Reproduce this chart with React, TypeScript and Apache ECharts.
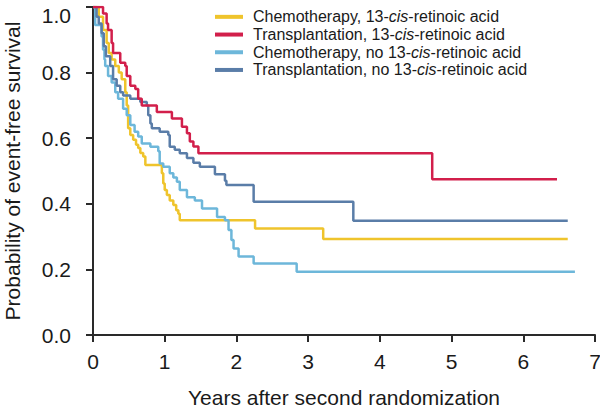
import React, { useEffect, useRef } from "react";
import * as echarts from "echarts";

const seriesNames = [
  "Chemotherapy, 13-cis-retinoic acid",
  "Transplantation, 13-cis-retinoic acid",
  "Chemotherapy, no 13-cis-retinoic acid",
  "Transplantation, no 13-cis-retinoic acid",
];

const seriesColors = ["#efc42c", "#d21f4b", "#6db7da", "#5a7da8"];

const xTicks = [0, 1, 2, 3, 4, 5, 6, 7];
const yTicks = [0, 0.2, 0.4, 0.6, 0.8, 1.0];

const chemoCis: [number, number][] = [
  [0, 1], [0.08, 0.97], [0.14, 0.93], [0.19, 0.89], [0.22, 0.86], [0.26, 0.84],
  [0.31, 0.82], [0.36, 0.8], [0.4, 0.78], [0.45, 0.74], [0.47, 0.7], [0.49, 0.63],
  [0.52, 0.61], [0.56, 0.595], [0.6, 0.58], [0.63, 0.57], [0.66, 0.555], [0.7, 0.544],
  [0.73, 0.518], [0.96, 0.493], [0.98, 0.462], [1.0, 0.442], [1.03, 0.427], [1.07, 0.41],
  [1.12, 0.396], [1.16, 0.38], [1.19, 0.37], [1.21, 0.35], [2.26, 0.325], [3.21, 0.293],
  [6.62, 0.293],
];

const transCis: [number, number][] = [
  [0, 1], [0.14, 0.98], [0.19, 0.95], [0.21, 0.93], [0.26, 0.89], [0.28, 0.86],
  [0.38, 0.83], [0.45, 0.82], [0.47, 0.79], [0.52, 0.76], [0.59, 0.75], [0.63, 0.72],
  [0.68, 0.7], [0.89, 0.68], [1.1, 0.66], [1.24, 0.635], [1.31, 0.615], [1.35, 0.59],
  [1.4, 0.575], [1.47, 0.554], [4.73, 0.475], [6.47, 0.475],
];

const chemoNoCis: [number, number][] = [
  [0, 1], [0.03, 0.945], [0.12, 0.91], [0.14, 0.87], [0.16, 0.84], [0.17, 0.82],
  [0.21, 0.79], [0.26, 0.77], [0.31, 0.74], [0.35, 0.72], [0.42, 0.69], [0.47, 0.67],
  [0.52, 0.64], [0.58, 0.62], [0.63, 0.605], [0.68, 0.584], [0.8, 0.574], [0.91, 0.56],
  [0.93, 0.523], [0.98, 0.513], [1.07, 0.493], [1.12, 0.48], [1.17, 0.467], [1.21, 0.442],
  [1.31, 0.42], [1.42, 0.41], [1.52, 0.386], [1.73, 0.36], [1.84, 0.35], [1.89, 0.32],
  [1.93, 0.29], [1.96, 0.264], [2.03, 0.239], [2.24, 0.218], [2.84, 0.193], [6.72, 0.193],
];

const transNoCis: [number, number][] = [
  [0, 1], [0.05, 0.97], [0.08, 0.95], [0.12, 0.92], [0.15, 0.88], [0.18, 0.85],
  [0.24, 0.82], [0.28, 0.78], [0.33, 0.76], [0.38, 0.74], [0.42, 0.73], [0.52, 0.72],
  [0.66, 0.71], [0.75, 0.7], [0.77, 0.67], [0.8, 0.645], [0.82, 0.63], [0.93, 0.62],
  [1.05, 0.61], [1.07, 0.574], [1.14, 0.565], [1.21, 0.554], [1.31, 0.54], [1.4, 0.525],
  [1.49, 0.513], [1.7, 0.49], [1.84, 0.47], [1.86, 0.457], [2.24, 0.406], [3.63, 0.348],
  [6.62, 0.348],
];

const allData = [chemoCis, transCis, chemoNoCis, transNoCis];

const FONT = "'Liberation Sans', Arial, Helvetica, sans-serif";

export default function App() {
  const ref = useRef<HTMLDivElement>(null);
  useEffect(() => {
    if (!ref.current) return;
    const chart = echarts.init(ref.current, undefined, { renderer: "svg" });
    const axisColor = "#2a2a2a";
    chart.setOption({
      animation: false,
      backgroundColor: "#ffffff",
      textStyle: { fontFamily: FONT },
      grid: {
        left: 93,
        right: 5,
        top: 7,
        bottom: 77,
        containLabel: false,
        outerBoundsMode: "none",
      },
      legend: {
        orient: "vertical",
        left: 210,
        top: 3,
        icon: "rect",
        itemWidth: 28,
        itemHeight: 4,
        itemGap: 0,
        data: seriesNames,
        formatter: (name: string) => name.replace("cis", "{i|cis}"),
        textStyle: {
          fontFamily: FONT,
          fontSize: 16,
          color: "#1a1a1a",
          lineHeight: 17.7,
          padding: [0, 0, 0, 5],
          rich: {
            i: { fontStyle: "italic", fontSize: 16, fontFamily: FONT, color: "#1a1a1a", lineHeight: 17.7 },
          },
        },
      },
      xAxis: {
        type: "value",
        min: xTicks[0],
        max: xTicks[xTicks.length - 1],
        interval: 1,
        name: "Years after second randomization",
        nameLocation: "middle",
        nameGap: 52,
        nameTextStyle: { fontSize: 21, color: "#1a1a1a", fontFamily: FONT },
        axisLine: { show: true, lineStyle: { color: axisColor, width: 2 } },
        axisTick: { show: true, length: 7, lineStyle: { color: axisColor, width: 2 } },
        axisLabel: { fontSize: 21, color: "#1a1a1a", margin: 16, fontFamily: FONT },
        splitLine: { show: false },
      },
      yAxis: {
        type: "value",
        min: yTicks[0],
        max: yTicks[yTicks.length - 1],
        interval: 0.2,
        name: "Probability of event-free survival",
        nameLocation: "middle",
        nameGap: 70,
        nameTextStyle: { fontSize: 21, color: "#1a1a1a", fontFamily: FONT },
        axisLine: { show: true, lineStyle: { color: axisColor, width: 2 } },
        axisTick: { show: true, length: 7, lineStyle: { color: axisColor, width: 2 } },
        axisLabel: {
          fontSize: 21,
          lineHeight: 16,
          color: "#1a1a1a",
          margin: 22,
          fontFamily: FONT,
          verticalAlignMaxLabel: "top",
          formatter: (v: number) => v.toFixed(1),
        },
        splitLine: { show: false },
      },
      series: seriesNames.map((name, i) => ({
        name,
        type: "line",
        step: "end",
        showSymbol: false,
        symbol: "none",
        data: allData[i],
        color: seriesColors[i],
        lineStyle: { color: seriesColors[i], width: 2.5 },
        z: i === 1 ? 5 : 2 + i * 0.1,
      })),
    });
    return () => chart.dispose();
  }, []);
  return (
    <div
      ref={ref}
      style={{ position: "fixed", left: 0, top: 0, width: 600, height: 412, background: "#fff" }}
    />
  );
}
